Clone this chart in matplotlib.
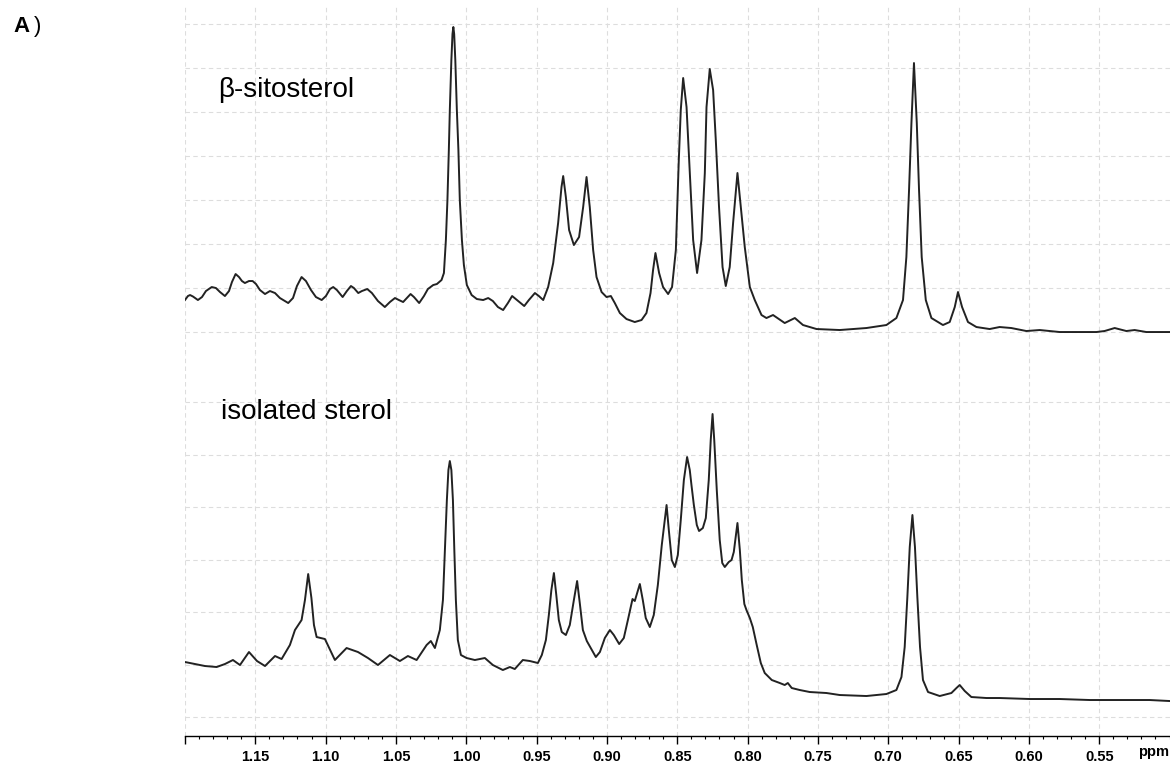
import numpy as np
import matplotlib.pyplot as plt
from matplotlib.ticker import MultipleLocator

plt.rcParams['font.family'] = ['Liberation Sans', 'DejaVu Sans']

# 1H NMR trace of the beta-sitosterol standard (ppm, intensity)
sito_ppm = [1.2000, 1.1979, 1.1964, 1.1943, 1.1908, 1.1879, 1.1851, 1.1810, 1.1780, 1.1751,
            1.1716, 1.1687, 1.1666, 1.1640, 1.1616, 1.1595, 1.1574, 1.1545, 1.1519, 1.1495,
            1.1467, 1.1431, 1.1396, 1.1360, 1.1325, 1.1266, 1.1232, 1.1204, 1.1171, 1.1140,
            1.1104, 1.1069, 1.1028, 1.0998, 1.0969, 1.0946, 1.0920, 1.0879, 1.0849, 1.0820,
            1.0799, 1.0768, 1.0742, 1.0704, 1.0671, 1.0628, 1.0579, 1.0543, 1.0507, 1.0479,
            1.0449, 1.0422, 1.0396, 1.0372, 1.0335, 1.0301, 1.0273, 1.0235, 1.0209, 1.0176,
            1.0159, 1.0145, 1.0134, 1.0124, 1.0117, 1.0106, 1.0098, 1.0092, 1.0086, 1.0078,
            1.0067, 1.0056, 1.0046, 1.0031, 1.0017, 0.9996, 0.9962, 0.9925, 0.9880, 0.9844,
            0.9811, 0.9775, 0.9738, 0.9704, 0.9674, 0.9640, 0.9588, 0.9555, 0.9512, 0.9484,
            0.9453, 0.9418, 0.9382, 0.9347, 0.9323, 0.9311, 0.9292, 0.9269, 0.9235, 0.9198,
            0.9169, 0.9145, 0.9122, 0.9098, 0.9074, 0.9038, 0.9003, 0.8972, 0.8944, 0.8908,
            0.8861, 0.8802, 0.8754, 0.8719, 0.8690, 0.8672, 0.8655, 0.8629, 0.8601, 0.8565,
            0.8537, 0.8510, 0.8489, 0.8475, 0.8458, 0.8434, 0.8411, 0.8387, 0.8359, 0.8328,
            0.8304, 0.8292, 0.8269, 0.8245, 0.8226, 0.8203, 0.8178, 0.8155, 0.8127, 0.8103,
            0.8072, 0.8048, 0.8020, 0.7984, 0.7949, 0.7901, 0.7866, 0.7819, 0.7736, 0.7664,
            0.7606, 0.7510, 0.7345, 0.7155, 0.7013, 0.6942, 0.6895, 0.6871, 0.6852, 0.6835,
            0.6817, 0.6797, 0.6781, 0.6762, 0.6733, 0.6693, 0.6611, 0.6563, 0.6527, 0.6504,
            0.6475, 0.6433, 0.6373, 0.6279, 0.6208, 0.6125, 0.6018, 0.5923, 0.5781, 0.5520,
            0.5462, 0.5390, 0.5307, 0.5248, 0.5165, 0.5000]
sito_int = [32, 36, 37, 35.5, 32, 35, 41, 45, 44, 40,
            36, 41, 50, 58, 55, 51, 49, 51, 51, 48,
            42, 38, 41, 39, 34, 29, 34, 46, 55, 51,
            42, 35, 32, 36, 43, 45, 42, 35, 41, 46,
            44, 39, 41, 43, 39, 31, 25, 30, 34, 32,
            30, 34, 38, 35, 29, 36, 43, 47, 48, 52,
            59, 92, 132, 182, 222, 272, 298, 305, 298, 272,
            222, 182, 132, 92, 67, 47, 37, 33, 32, 34,
            31, 25, 22, 29, 36, 32, 26, 32, 39, 36,
            32, 45, 69, 109, 145, 156, 135, 102, 87, 95,
            125, 155, 125, 82, 55, 40, 35, 36, 29, 19,
            13, 10, 12, 19, 39, 62, 79, 59, 45, 38,
            45, 82, 172, 222, 254, 225, 159, 92, 59, 92,
            159, 225, 263, 242, 192, 125, 65, 46, 65, 109,
            159, 125, 85, 45, 32, 17, 14, 17, 9, 14,
            7, 3, 2, 4, 7, 14, 32, 75, 142, 209,
            269, 209, 142, 75, 32, 14, 7, 10, 25, 40,
            25, 10, 5, 3, 5, 4, 1, 2, 0, 0,
            1, 4, 1, 2, 0, 0]

# 1H NMR trace of the isolated sterol
iso_ppm = [1.2000, 1.1929, 1.1858, 1.1775, 1.1716, 1.1659, 1.1609, 1.1545, 1.1488, 1.1431,
           1.1360, 1.1313, 1.1254, 1.1218, 1.1171, 1.1147, 1.1124, 1.1101, 1.1083, 1.1064,
           1.1005, 1.0934, 1.0851, 1.0770, 1.0699, 1.0628, 1.0543, 1.0472, 1.0415, 1.0353,
           1.0282, 1.0252, 1.0223, 1.0188, 1.0166, 1.0152, 1.0138, 1.0127, 1.0117, 1.0106,
           1.0095, 1.0085, 1.0074, 1.0060, 1.0038, 0.9998, 0.9939, 0.9868, 0.9811, 0.9740,
           0.9690, 0.9655, 0.9598, 0.9548, 0.9491, 0.9463, 0.9434, 0.9413, 0.9395, 0.9377,
           0.9360, 0.9342, 0.9321, 0.9292, 0.9264, 0.9235, 0.9212, 0.9193, 0.9171, 0.9143,
           0.9107, 0.9079, 0.9050, 0.9015, 0.8979, 0.8951, 0.8913, 0.8880, 0.8851, 0.8818,
           0.8802, 0.8766, 0.8745, 0.8724, 0.8695, 0.8667, 0.8638, 0.8610, 0.8576, 0.8560,
           0.8539, 0.8517, 0.8496, 0.8475, 0.8453, 0.8430, 0.8411, 0.8399, 0.8382, 0.8361,
           0.8345, 0.8318, 0.8297, 0.8276, 0.8262, 0.8249, 0.8237, 0.8219, 0.8198, 0.8180,
           0.8162, 0.8134, 0.8114, 0.8098, 0.8072, 0.8055, 0.8041, 0.8023, 0.8008, 0.7984,
           0.7963, 0.7935, 0.7906, 0.7878, 0.7828, 0.7771, 0.7736, 0.7714, 0.7686, 0.7629,
           0.7558, 0.7439, 0.7345, 0.7155, 0.7013, 0.6942, 0.6906, 0.6883, 0.6864, 0.6847,
           0.6828, 0.6810, 0.6793, 0.6774, 0.6753, 0.6717, 0.6634, 0.6551, 0.6515, 0.6492,
           0.6456, 0.6409, 0.6302, 0.6208, 0.5994, 0.5781, 0.5568, 0.5355, 0.5141, 0.5000]
iso_int = [55, 53, 51, 50, 53, 57, 52, 65, 56, 51,
           61, 58, 72, 87, 97, 117, 143, 119, 92, 80,
           78, 57, 69, 65, 59, 52, 62, 56, 61, 57,
           72, 76, 69, 87, 117, 167, 217, 247, 256, 247,
           217, 167, 117, 77, 62, 59, 57, 59, 52, 47,
           50, 48, 57, 56, 54, 62, 77, 102, 127, 144,
           122, 97, 85, 82, 92, 117, 136, 114, 87, 76,
           67, 60, 65, 79, 87, 82, 73, 79, 97, 118,
           116, 133, 117, 99, 90, 102, 132, 172, 212, 187,
           157, 150, 162, 197, 237, 260, 247, 232, 212, 192,
           186, 189, 199, 237, 277, 303, 277, 227, 177, 154,
           150, 155, 157, 165, 194, 167, 137, 113, 107, 99,
           90, 72, 54, 44, 37, 34, 32, 34, 29, 27,
           25, 24, 22, 21, 23, 27, 40, 70, 120, 170,
           202, 170, 120, 70, 37, 25, 21, 24, 29, 32,
           26, 20, 19, 19, 18, 18, 17, 17, 17, 16]

tick_ppm = [1.20, 1.15, 1.10, 1.05, 1.00, 0.95, 0.90, 0.85, 0.80, 0.75, 0.70, 0.65, 0.60, 0.55]
tick_labels = ['', '1.15', '1.10', '1.05', '1.00', '0.95', '0.90', '0.85', '0.80',
               '0.75', '0.70', '0.65', '0.60', '0.55']

fig = plt.figure(figsize=(11.7, 7.62), dpi=100)
ax_top = fig.add_axes([0.1581, 0.5354, 0.8415, 0.4580])
ax_bot = fig.add_axes([0.1581, 0.0341, 0.8415, 0.5013])

grid_kw = dict(color='#dddddd', linestyle=(0, (4, 3)), linewidth=0.8)
line_kw = dict(color='#222222', linewidth=1.4, solid_joinstyle='round')

ax_top.plot(sito_ppm, sito_int, **line_kw)
ax_top.set_ylim(-22, 327)
ax_top.set_yticks(np.arange(0, 309, 44))

ax_bot.plot(iso_ppm, iso_int, **line_kw)
ax_bot.set_ylim(-19, 363)
ax_bot.set_yticks(np.arange(0, 316, 52.5))

for ax in (ax_top, ax_bot):
    ax.set_xlim(1.20, 0.50)
    ax.set_xticks(tick_ppm)
    ax.grid(True, **grid_kw)
    ax.set_axisbelow(True)
    ax.tick_params(axis='y', left=False, labelleft=False)
    for side in ('top', 'left', 'right', 'bottom'):
        ax.spines[side].set_visible(False)

ax_top.tick_params(axis='x', bottom=False, labelbottom=False)

ax_bot.spines['bottom'].set_visible(True)
ax_bot.spines['bottom'].set_linewidth(1.0)
ax_bot.set_xticklabels(tick_labels, fontweight='bold', fontsize=10.5)
ax_bot.xaxis.set_minor_locator(MultipleLocator(0.01))
ax_bot.tick_params(axis='x', which='major', direction='out', length=6, width=1, pad=4)
ax_bot.tick_params(axis='x', which='minor', direction='out', length=2.5, width=0.8)
ax_bot.text(0.50, -0.042, 'ppm', transform=ax_bot.get_xaxis_transform(),
            ha='right', va='center', fontsize=10.5, fontweight='bold')

fig.text(0.1863, 0.8727, 'β-sitosterol', fontsize=20, va='baseline')
fig.text(0.1889, 0.4501, 'isolated sterol', fontsize=20, va='baseline')
fig.text(0.0111, 0.958, 'A', fontsize=16, fontweight='bold', va='baseline')
fig.text(0.0290, 0.958, ')', fontsize=16, va='baseline')

fig.savefig('out.png', dpi=100)
